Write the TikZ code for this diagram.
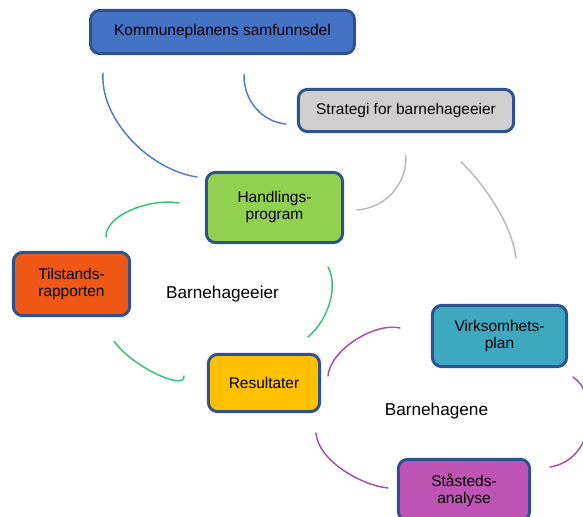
\documentclass[tikz,border=0pt]{standalone}
\usepackage{fontspec}
\setmainfont{Liberation Sans}
\definecolor{boxline}{RGB}{47,82,143}
\definecolor{kommcol}{RGB}{68,114,196}
\definecolor{stratcol}{RGB}{208,206,206}
\definecolor{handlcol}{RGB}{146,208,80}
\definecolor{tilstcol}{RGB}{238,88,20}
\definecolor{resultcol}{RGB}{255,192,0}
\definecolor{virkcol}{RGB}{62,168,193}
\definecolor{staacol}{RGB}{190,84,180}
\definecolor{bluearc}{RGB}{80,124,200}
\definecolor{grayarc}{RGB}{185,185,185}
\definecolor{greenarc}{RGB}{52,194,118}
\definecolor{purplearc}{RGB}{168,78,168}

\begin{document}
\begin{tikzpicture}[
    x=0.75pt, y=-0.75pt,
    box/.style={draw=boxline, line width=2.2pt, rounded corners=7pt,
      inner sep=0pt, align=center, text=black,
      font=\fontsize{11.6}{12.75}\selectfont},
    ring/.style={line width=1.1pt, line cap=round},
    lbl/.style={font=\fontsize{12.9}{14}\selectfont}
  ]

  % --- canvas ----------------------------------------------------------
  \useasboundingbox (0,0) rectangle (583,517);
  \clip (0,0) rectangle (583,517);

  % --- boxes -----------------------------------------------------------
  \node[box, fill=kommcol, minimum width=198pt, minimum height=32.5pt]
    (Komm) at (222.5,32) {Kommuneplanens samfunnsdel};
  \node[box, fill=stratcol, minimum width=161.5pt, minimum height=31.75pt]
    (Strat) at (406,110.5) {Strategi for barnehageeier};
  \node[box, fill=handlcol, minimum width=102.25pt, minimum height=52.75pt]
    (Handl) at (274.5,207.5) {Handlings-\\program};
  \node[box, fill=tilstcol, minimum width=87.25pt, minimum height=47.5pt]
    (Tilst) at (71.5,284) {Tilstands-\\rapporten};
  \node[box, fill=resultcol, minimum width=83.5pt, minimum height=43pt]
    (Result) at (264,383) {Resultater};
  \node[box, fill=virkcol, minimum width=100.75pt, minimum height=46pt]
    (Virk) at (499.5,336) {Virksomhets-\\plan};
  \node[box, fill=staacol, minimum width=98.5pt, minimum height=46pt]
    (Staa) at (464,490) {Ståsteds-\\analyse};

  % --- group labels ----------------------------------------------------
  \node[lbl] (Eier) at (222.5,294) {Barnehageeier};
  \node[lbl] (Hagene) at (436.5,411) {Barnehagene};

  % --- arc end points --------------------------------------------------
  \coordinate (KommA)   at (103,73);
  \coordinate (KommB)   at (197,177);
  \coordinate (KommC)   at (244,74);
  \coordinate (KommD)   at (286,124);
  \coordinate (StratA)  at (406,155);
  \coordinate (StratB)  at (357,210);
  \coordinate (StratC)  at (461,162);
  \coordinate (StratD)  at (516,258);
  \coordinate (EierA)   at (179,203);
  \coordinate (EierB)   at (106,237);
  \coordinate (EierC)   at (328,267);
  \coordinate (EierD)   at (308,337);
  \coordinate (EierE)   at (114,341);
  \coordinate (EierF)   at (184,376);
  \coordinate (HageneA) at (400,328);
  \coordinate (HageneB) at (328,376);
  \coordinate (HageneC) at (573,377);
  \coordinate (HageneD) at (550,467);
  \coordinate (HageneE) at (316,433);
  \coordinate (HageneF) at (388,488);

  % --- blue arcs (kommuneplan) -----------------------------------------
  \draw[ring, bluearc] (KommA) .. controls (100,120) and (150,170) .. (KommB);
  \draw[ring, bluearc] (KommC) .. controls (243,100) and (262,122) .. (KommD);

  % --- gray arcs (strategi) --------------------------------------------
  \draw[ring, grayarc] (StratA) .. controls (407,185) and (385,208) .. (StratB);
  \draw[ring, grayarc] (StratC) .. controls (485,185) and (512,225) .. (StratD);

  % --- green arcs (barnehageeier) --------------------------------------
  \draw[ring, greenarc] (EierA) .. controls (150,198) and (105,215) .. (EierB);
  \draw[ring, greenarc] (EierC) .. controls (338,285) and (330,318) .. (EierD);
  \draw[ring, greenarc] (EierE) .. controls (130,365) and (185,392) .. (EierF);

  % --- purple arcs (barnehagene) ---------------------------------------
  \draw[ring, purplearc] (HageneA) .. controls (375,322) and (330,350) .. (HageneB);
  \draw[ring, purplearc] (HageneC) .. controls (600,395) and (595,460) .. (HageneD);
  \draw[ring, purplearc] (HageneE) .. controls (318,460) and (360,485) .. (HageneF);

\end{tikzpicture}
\end{document}
